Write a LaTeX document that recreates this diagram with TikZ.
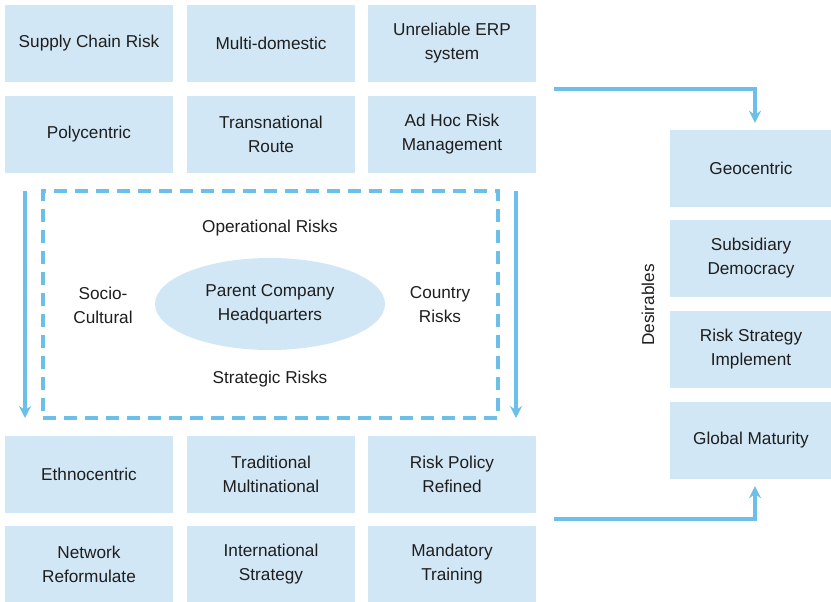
\documentclass[tikz,border=0pt]{standalone}
\usepackage{fontspec}
\setmainfont{Liberation Sans}
\usetikzlibrary{arrows.meta,shapes.geometric}
\definecolor{boxfill}{HTML}{D2E7F5}
\definecolor{arrowblue}{HTML}{6BBFE8}
\definecolor{txt}{HTML}{1E1E1E}
\tikzset{
  cell/.style={fill=boxfill, draw=none, minimum width=168pt, minimum height=77pt, align=center, text=txt, font=\fontsize{17.2}{24}\selectfont},
  rcell/.style={cell, minimum width=162pt},
  lbl/.style={align=center, text=txt, font=\fontsize{17.2}{24}\selectfont},
  flow/.style={draw=arrowblue, line width=3.4pt, -{Stealth[length=12pt,width=12pt,inset=4pt]}},
  frame/.style={draw=arrowblue, line width=3.4pt, dash pattern=on 13pt off 8pt, minimum width=455pt, minimum height=227pt}
}
\begin{document}
\begin{tikzpicture}[x=1pt,y=-1pt]
\useasboundingbox (0,0) rectangle (831,602);
% grid
\node[cell] (a1) at (89,43.5) {Supply Chain Risk};
\node[cell] (a2) at (271,43.5) {Multi-domestic};
\node[cell] (a3) at (452,43.5) {Unreliable ERP\\system};
\node[cell] (b1) at (89,134.5) {Polycentric};
\node[cell] (b2) at (271,134.5) {Transnational\\Route};
\node[cell] (b3) at (452,134.5) {Ad Hoc Risk\\Management};
\node[cell] (c1) at (89,474.5) {Ethnocentric};
\node[cell] (c2) at (271,474.5) {Traditional\\Multinational};
\node[cell] (c3) at (452,474.5) {Risk Policy\\Refined};
\node[cell] (d1) at (89,564.5) {Network\\Reformulate};
\node[cell] (d2) at (271,564.5) {International\\Strategy};
\node[cell] (d3) at (452,564.5) {Mandatory\\Training};
% right column
\node[rcell] (r1) at (751,168.5) {Geocentric};
\node[rcell] (r2) at (751,258.5) {Subsidiary\\Democracy};
\node[rcell] (r3) at (751,349.5) {Risk Strategy\\Implement};
\node[rcell] (r4) at (751,440.5) {Global Maturity};
\node[lbl, rotate=90] (des) at (648,305) {Desirables};
% centre
\node[frame] (fr) at (270.5,304.5) {};
\node[fill=boxfill, ellipse, minimum width=230pt, minimum height=92pt, inner sep=0pt, lbl] (hq) at (270,304) {Parent Company\\Headquarters};
\node[lbl] (op) at (270,228) {Operational Risks};
\node[lbl] (st) at (270,379) {Strategic Risks};
\node[lbl] (sc) at (103,305) {Socio-\\Cultural};
\node[lbl] (cr) at (440,305) {Country\\Risks};
% connectors
\coordinate (ts) at (554,89);
\coordinate (bs) at (554,519);
\coordinate (l1) at (25,191);
\coordinate (l2) at (25,418);
\coordinate (q1) at (516,191);
\coordinate (q2) at (516,418);
\draw[flow] (ts) -| ([xshift=4pt,yshift=7pt]r1.north);
\draw[flow] (bs) -| ([xshift=4pt,yshift=-7pt]r4.south);
\draw[flow] (l1) -- (l2);
\draw[flow] (q1) -- (q2);
\end{tikzpicture}
\end{document}
